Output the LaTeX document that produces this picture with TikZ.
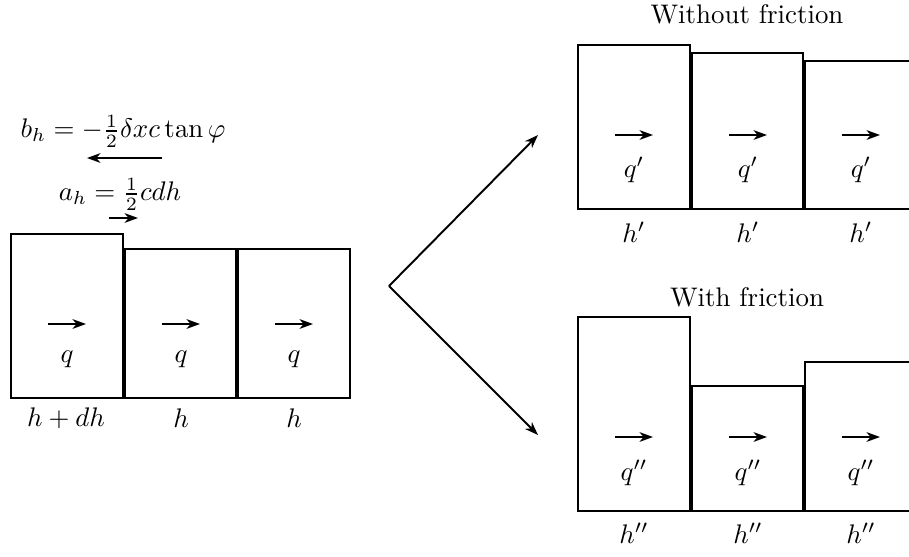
\documentclass[tikz,border=0pt]{standalone}
\usetikzlibrary{arrows.meta}
\begin{document}
\begin{tikzpicture}[x=0.372pt,y=-0.372pt,
  cell/.style={draw,line width=0.72pt},
  flow/.style={line width=0.72pt,-{Stealth[length=5pt,width=3.6pt,inset=1.5pt]}},
  lab/.style={inner sep=0pt}]
\clip (0,0) rectangle (909,556);
% left group
\draw[cell] (11,234) rectangle (123,398);
\draw[cell] (125,249) rectangle (236,398);
\draw[cell] (238,249) rectangle (350,398);
\foreach \x/\n in {67/l1,181/l2,294/l3}{
  \coordinate (\n a) at (\x-19,324);
  \coordinate (\n b) at (\x+19,324);
  \draw[flow] (\n a) -- (\n b);
  \node[lab] (\n q) at (\x,359) {$q$};
}
\node[lab] (lh1) at (66,418) {$h+dh$};
\node[lab] (lh2) at (181,418) {$h$};
\node[lab] (lh3) at (294,418) {$h$};
\node[lab] (bh) at (123,131) {$b_h=-\frac{1}{2}\delta xc\tan\varphi$};
\coordinate (bs) at (162,158);
\coordinate (be) at (87,158);
\draw[flow] (bs) -- (be);
\node[lab] (ah) at (120,194) {$a_h=\frac{1}{2}cdh$};
\coordinate (as) at (109,218);
\coordinate (ae) at (138,218);
\draw[flow] (as) -- (ae);
% V arrows
\coordinate (v) at (389,286);
\coordinate (vu) at (538,135);
\coordinate (vd) at (538,435);
\draw[flow] (v) -- (vu);
\draw[flow] (v) -- (vd);
% right upper
\node[lab] (t1) at (747,14) {Without friction};
\draw[cell] (578,45) rectangle (690,209);
\draw[cell] (692,53) rectangle (803,209);
\draw[cell] (805,61) rectangle (920,209);
\foreach \x/\n in {634/u1,748/u2,861/u3}{
  \coordinate (\n a) at (\x-19,135);
  \coordinate (\n b) at (\x+19,135);
  \draw[flow] (\n a) -- (\n b);
  \node[lab] (\n q) at (\x,170) {$q'$};
  \node[lab] (\n h) at (\x,232) {$h'$};
}
% right lower
\node[lab] (t2) at (747,297) {With friction};
\draw[cell] (578,317) rectangle (690,511);
\draw[cell] (692,386) rectangle (803,511);
\draw[cell] (805,362) rectangle (920,511);
\foreach \x/\n in {634/d1,748/d2,861/d3}{
  \coordinate (\n a) at (\x-19,437);
  \coordinate (\n b) at (\x+19,437);
  \draw[flow] (\n a) -- (\n b);
  \node[lab] (\n q) at (\x,473) {$q''$};
  \node[lab] (\n h) at (\x,533) {$h''$};
}
\end{tikzpicture}
\end{document}
